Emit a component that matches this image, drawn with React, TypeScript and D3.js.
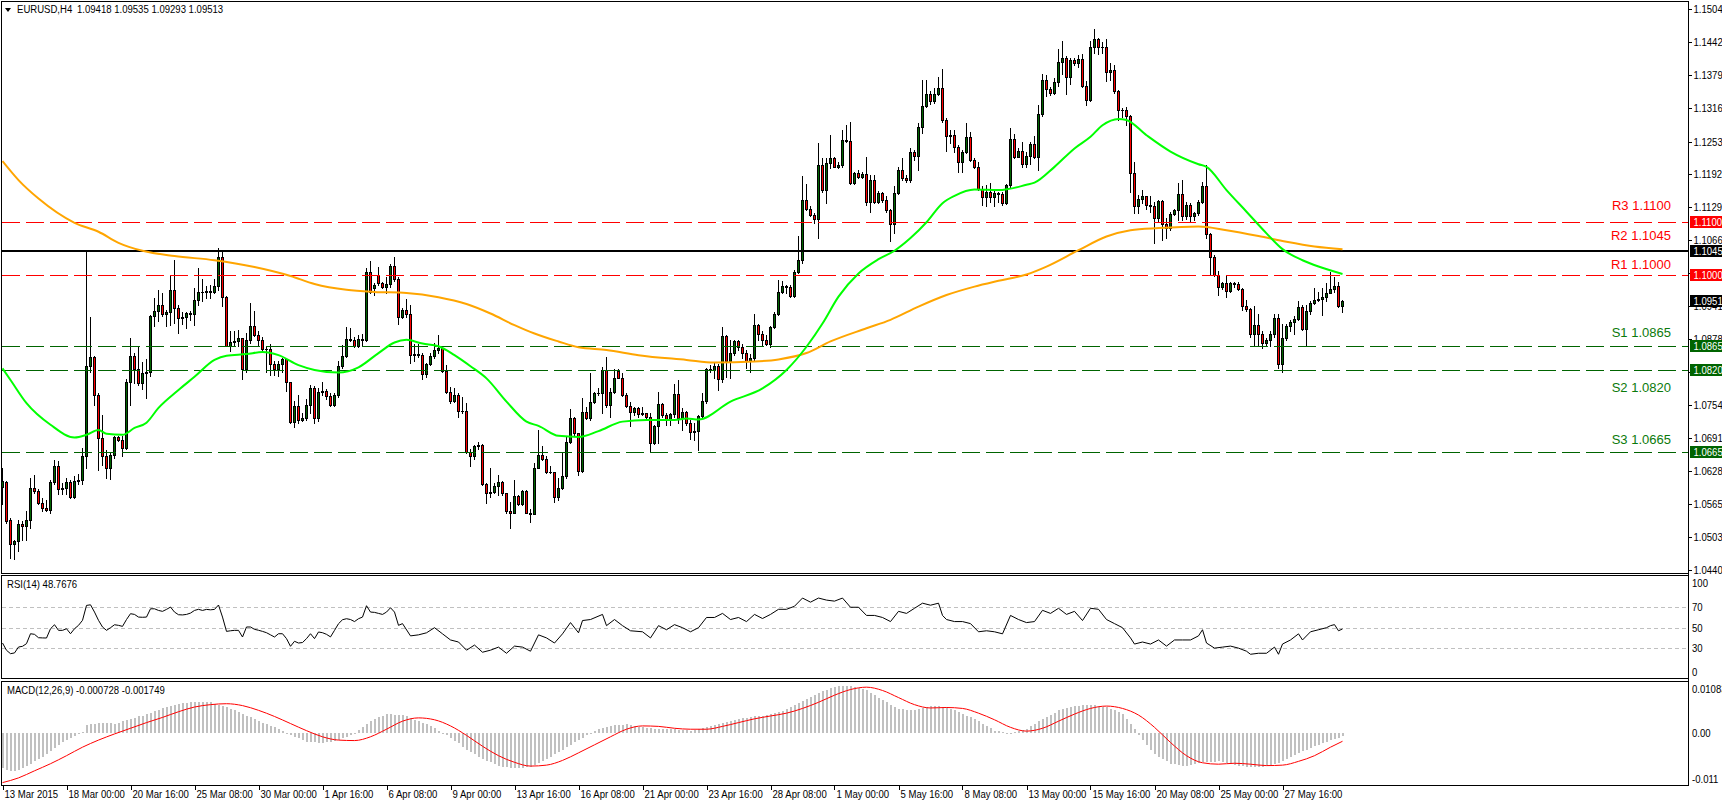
import React from "react";
import * as d3 from "d3";

const W = 1722;
const H = 801;

// EURUSD H4 bars: [open, high, low, close]
const candles: number[][] = [
[1.0599,1.0634,1.0565,1.0610],[1.0608,1.0610,1.0530,1.0533],[1.0535,1.0539,1.0464,1.0490],[1.0490,1.0498,1.0462,1.0495],
[1.0495,1.0536,1.0476,1.0527],[1.0527,1.0533,1.0498,1.0524],[1.0524,1.0552,1.0498,1.0536],[1.0536,1.0615,1.0520,1.0596],
[1.0596,1.0620,1.0587,1.0590],[1.0590,1.0594,1.0565,1.0567],[1.0567,1.0577,1.0552,1.0558],[1.0558,1.0574,1.0552,1.0555],
[1.0555,1.0612,1.0549,1.0608],[1.0608,1.0649,1.0603,1.0637],[1.0637,1.0648,1.0584,1.0594],[1.0594,1.0606,1.0584,1.0596],
[1.0596,1.0616,1.0584,1.0608],[1.0608,1.0612,1.0578,1.0579],[1.0579,1.0618,1.0577,1.0610],[1.0610,1.0622,1.0603,1.0612],
[1.0612,1.0672,1.0603,1.0656],[1.0656,1.1043,1.0634,1.0827],[1.0827,1.0920,1.0817,1.0844],[1.0844,1.0846,1.0754,1.0773],
[1.0773,1.0776,1.0631,1.0691],[1.0691,1.0735,1.0640,1.0656],[1.0656,1.0669,1.0615,1.0634],[1.0634,1.0663,1.0613,1.0658],
[1.0658,1.0695,1.0653,1.0693],[1.0693,1.0695,1.0685,1.0688],[1.0688,1.0694,1.0656,1.0672],[1.0672,1.0802,1.0670,1.0798],
[1.0798,1.0881,1.0754,1.0847],[1.0847,1.0853,1.0795,1.0821],[1.0821,1.0866,1.0792,1.0795],[1.0795,1.0835,1.0783,1.0814],
[1.0814,1.0841,1.0767,1.0816],[1.0816,1.0925,1.0808,1.0922],[1.0922,1.0956,1.0903,1.0931],[1.0931,1.0972,1.0912,1.0943],
[1.0943,1.0966,1.0922,1.0926],[1.0926,1.0934,1.0903,1.0929],[1.0929,1.0999,1.0906,1.0972],[1.0972,1.1029,1.0909,1.0938],
[1.0938,1.0943,1.0890,1.0919],[1.0919,1.0929,1.0908,1.0920],[1.0920,1.0930,1.0900,1.0928],[1.0928,1.0931,1.0915,1.0926],
[1.0926,1.0975,1.0906,1.0953],[1.0953,1.1013,1.0944,1.0968],[1.0968,1.0993,1.0950,1.0967],[1.0967,1.0979,1.0956,1.0970],
[1.0970,1.0981,1.0956,1.0968],[1.0968,1.0993,1.0966,1.0980],[1.0980,1.1051,1.0972,1.1035],[1.1035,1.1046,1.0941,1.0958],
[1.0958,1.0961,1.0865,1.0866],[1.0866,1.0893,1.0855,1.0873],[1.0873,1.0893,1.0868,1.0875],[1.0875,1.0895,1.0865,1.0881],
[1.0881,1.0881,1.0802,1.0821],[1.0821,1.0890,1.0817,1.0876],[1.0876,1.0947,1.0871,1.0904],[1.0904,1.0932,1.0884,1.0887],
[1.0887,1.0893,1.0866,1.0876],[1.0876,1.0883,1.0855,1.0859],[1.0859,1.0865,1.0817,1.0860],[1.0860,1.0870,1.0811,1.0832],
[1.0832,1.0836,1.0811,1.0821],[1.0821,1.0836,1.0808,1.0832],[1.0832,1.0843,1.0817,1.0840],[1.0840,1.0841,1.0781,1.0797],
[1.0797,1.0798,1.0719,1.0721],[1.0721,1.0761,1.0711,1.0752],[1.0752,1.0773,1.0719,1.0726],[1.0726,1.0738,1.0724,1.0729],
[1.0729,1.0764,1.0726,1.0754],[1.0754,1.0792,1.0738,1.0785],[1.0785,1.0790,1.0719,1.0729],[1.0729,1.0786,1.0723,1.0778],
[1.0778,1.0798,1.0773,1.0781],[1.0781,1.0783,1.0764,1.0771],[1.0771,1.0776,1.0751,1.0754],[1.0754,1.0776,1.0751,1.0773],
[1.0773,1.0836,1.0769,1.0827],[1.0827,1.0867,1.0824,1.0846],[1.0846,1.0901,1.0845,1.0878],[1.0878,1.0899,1.0874,1.0877],
[1.0877,1.0882,1.0864,1.0865],[1.0865,1.0886,1.0864,1.0879],[1.0879,1.0888,1.0865,1.0877],[1.0877,1.1013,1.0874,1.1005],
[1.1005,1.1027,1.0965,1.0968],[1.0975,1.0984,1.0962,1.0981],[1.1000,1.1016,1.0981,1.0984],[1.0984,1.0987,1.0975,1.0977],
[1.0977,1.0997,1.0965,1.0983],[1.0983,1.1020,1.0978,1.1017],[1.1017,1.1034,1.0989,1.0992],[1.0992,1.0996,1.0908,1.0920],
[1.0920,1.0937,1.0918,1.0934],[1.0934,1.0954,1.0921,1.0926],[1.0926,1.0943,1.0833,1.0848],[1.0848,1.0869,1.0836,1.0850],
[1.0850,1.0869,1.0845,1.0848],[1.0848,1.0852,1.0802,1.0812],[1.0812,1.0834,1.0807,1.0831],[1.0831,1.0852,1.0829,1.0847],
[1.0847,1.0871,1.0842,1.0858],[1.0858,1.0886,1.0852,1.0862],[1.0862,1.0865,1.0817,1.0818],[1.0818,1.0829,1.0776,1.0778],
[1.0778,1.0788,1.0757,1.0762],[1.0762,1.0785,1.0760,1.0773],[1.0773,1.0776,1.0730,1.0743],[1.0743,1.0769,1.0739,1.0742],
[1.0742,1.0757,1.0662,1.0664],[1.0664,1.0671,1.0637,1.0656],[1.0656,1.0678,1.0652,1.0675],[1.0675,1.0684,1.0671,1.0678],
[1.0678,1.0680,1.0602,1.0604],[1.0604,1.0605,1.0567,1.0587],[1.0587,1.0634,1.0580,1.0589],[1.0589,1.0605,1.0586,1.0600],
[1.0600,1.0621,1.0583,1.0608],[1.0608,1.0609,1.0583,1.0586],[1.0586,1.0587,1.0548,1.0553],[1.0553,1.0570,1.0520,1.0549],
[1.0549,1.0611,1.0548,1.0581],[1.0581,1.0583,1.0564,1.0566],[1.0566,1.0592,1.0564,1.0591],[1.0591,1.0592,1.0548,1.0549],
[1.0549,1.0556,1.0531,1.0547],[1.0547,1.0643,1.0546,1.0635],[1.0635,1.0706,1.0634,1.0659],[1.0659,1.0675,1.0649,1.0652],
[1.0652,1.0657,1.0624,1.0627],[1.0627,1.0637,1.0624,1.0626],[1.0626,1.0627,1.0570,1.0580],[1.0580,1.0615,1.0573,1.0596],
[1.0596,1.0662,1.0594,1.0619],[1.0619,1.0694,1.0616,1.0683],[1.0683,1.0745,1.0681,1.0728],[1.0728,1.0731,1.0697,1.0700],
[1.0700,1.0701,1.0621,1.0629],[1.0629,1.0766,1.0627,1.0740],[1.0740,1.0750,1.0727,1.0728],[1.0728,1.0815,1.0725,1.0759],
[1.0759,1.0779,1.0757,1.0776],[1.0776,1.0785,1.0773,1.0777],[1.0777,1.0826,1.0738,1.0820],[1.0820,1.0845,1.0750,1.0754],
[1.0754,1.0785,1.0731,1.0779],[1.0779,1.0821,1.0776,1.0805],[1.0818,1.0821,1.0804,1.0805],[1.0805,1.0815,1.0771,1.0773],
[1.0773,1.0776,1.0750,1.0752],[1.0752,1.0760,1.0713,1.0741],[1.0741,1.0750,1.0735,1.0747],[1.0747,1.0750,1.0731,1.0737],
[1.0737,1.0750,1.0735,1.0738],[1.0738,1.0738,1.0725,1.0730],[1.0730,1.0738,1.0664,1.0681],[1.0681,1.0716,1.0680,1.0714],
[1.0714,1.0779,1.0681,1.0755],[1.0755,1.0757,1.0731,1.0735],[1.0735,1.0738,1.0716,1.0725],[1.0725,1.0738,1.0716,1.0737],
[1.0737,1.0793,1.0731,1.0774],[1.0774,1.0800,1.0719,1.0728],[1.0728,1.0748,1.0706,1.0740],[1.0740,1.0742,1.0716,1.0720],
[1.0720,1.0725,1.0690,1.0703],[1.0703,1.0719,1.0687,1.0704],[1.0704,1.0735,1.0668,1.0733],[1.0733,1.0776,1.0728,1.0762],
[1.0762,1.0823,1.0757,1.0821],[1.0821,1.0829,1.0817,1.0820],[1.0820,1.0833,1.0804,1.0827],[1.0827,1.0831,1.0782,1.0802],
[1.0802,1.0901,1.0798,1.0884],[1.0884,1.0886,1.0807,1.0836],[1.0836,1.0877,1.0804,1.0853],[1.0853,1.0876,1.0848,1.0874],
[1.0874,1.0877,1.0858,1.0864],[1.0864,1.0870,1.0842,1.0853],[1.0853,1.0858,1.0823,1.0836],[1.0836,1.0851,1.0817,1.0842],
[1.0842,1.0926,1.0839,1.0905],[1.0905,1.0908,1.0877,1.0889],[1.0889,1.0893,1.0867,1.0877],[1.0877,1.0886,1.0867,1.0870],
[1.0870,1.0903,1.0864,1.0902],[1.0902,1.0929,1.0899,1.0926],[1.0926,1.0991,1.0924,1.0967],[1.0967,1.0989,1.0965,1.0979],
[1.0979,1.0981,1.0965,1.0978],[1.0978,1.0981,1.0958,1.0960],[1.0960,1.1009,1.0958,1.1006],[1.1006,1.1073,1.1003,1.1028],
[1.1028,1.1188,1.1022,1.1142],[1.1142,1.1173,1.1123,1.1125],[1.1125,1.1130,1.1111,1.1114],[1.1114,1.1117,1.1099,1.1106],
[1.1106,1.1250,1.1070,1.1209],[1.1209,1.1221,1.1158,1.1161],[1.1161,1.1221,1.1136,1.1212],[1.1212,1.1265,1.1202,1.1221],
[1.1221,1.1224,1.1204,1.1205],[1.1205,1.1215,1.1202,1.1208],[1.1208,1.1275,1.1205,1.1256],[1.1256,1.1284,1.1253,1.1255],
[1.1255,1.1291,1.1172,1.1174],[1.1174,1.1196,1.1172,1.1194],[1.1194,1.1199,1.1183,1.1185],[1.1185,1.1196,1.1183,1.1191],
[1.1191,1.1223,1.1133,1.1139],[1.1139,1.1190,1.1120,1.1181],[1.1181,1.1190,1.1136,1.1139],[1.1139,1.1160,1.1137,1.1156],
[1.1156,1.1158,1.1139,1.1142],[1.1142,1.1149,1.1120,1.1123],[1.1123,1.1125,1.1065,1.1097],[1.1097,1.1169,1.1080,1.1155],
[1.1155,1.1205,1.1154,1.1199],[1.1199,1.1221,1.1180,1.1183],[1.1183,1.1190,1.1177,1.1180],[1.1180,1.1240,1.1177,1.1233],
[1.1233,1.1237,1.1218,1.1226],[1.1226,1.1288,1.1199,1.1281],[1.1281,1.1370,1.1269,1.1320],[1.1320,1.1370,1.1319,1.1344],
[1.1344,1.1348,1.1325,1.1329],[1.1329,1.1354,1.1327,1.1344],[1.1344,1.1376,1.1341,1.1354],[1.1354,1.1390,1.1291,1.1293],
[1.1293,1.1297,1.1236,1.1264],[1.1264,1.1275,1.1250,1.1265],[1.1265,1.1274,1.1234,1.1243],[1.1243,1.1246,1.1196,1.1215],
[1.1215,1.1237,1.1196,1.1234],[1.1234,1.1289,1.1231,1.1261],[1.1261,1.1272,1.1217,1.1218],[1.1218,1.1222,1.1202,1.1205],
[1.1205,1.1215,1.1161,1.1164],[1.1164,1.1169,1.1133,1.1147],[1.1147,1.1171,1.1131,1.1158],[1.1158,1.1174,1.1139,1.1147],
[1.1147,1.1161,1.1130,1.1155],[1.1155,1.1158,1.1139,1.1153],[1.1153,1.1158,1.1133,1.1137],[1.1137,1.1173,1.1135,1.1171],
[1.1171,1.1278,1.1167,1.1257],[1.1257,1.1267,1.1221,1.1224],[1.1224,1.1240,1.1224,1.1236],[1.1236,1.1253,1.1205,1.1210],
[1.1210,1.1234,1.1205,1.1226],[1.1226,1.1253,1.1211,1.1248],[1.1248,1.1264,1.1221,1.1224],[1.1224,1.1322,1.1200,1.1305],
[1.1305,1.1381,1.1302,1.1370],[1.1370,1.1379,1.1339,1.1352],[1.1352,1.1357,1.1341,1.1346],[1.1346,1.1373,1.1343,1.1365],
[1.1365,1.1428,1.1359,1.1403],[1.1403,1.1444,1.1382,1.1411],[1.1411,1.1415,1.1343,1.1376],[1.1376,1.1411,1.1363,1.1408],
[1.1408,1.1411,1.1398,1.1401],[1.1401,1.1417,1.1395,1.1409],[1.1409,1.1419,1.1357,1.1358],[1.1358,1.1367,1.1322,1.1332],
[1.1332,1.1444,1.1329,1.1432],[1.1432,1.1466,1.1420,1.1447],[1.1447,1.1449,1.1419,1.1432],[1.1432,1.1442,1.1420,1.1433],
[1.1433,1.1447,1.1367,1.1384],[1.1384,1.1401,1.1370,1.1389],[1.1389,1.1398,1.1346,1.1348],[1.1348,1.1351,1.1294,1.1313],
[1.1313,1.1316,1.1300,1.1312],[1.1312,1.1318,1.1284,1.1302],[1.1302,1.1303,1.1158,1.1194],[1.1194,1.1215,1.1118,1.1130],
[1.1130,1.1152,1.1117,1.1145],[1.1145,1.1161,1.1136,1.1149],[1.1149,1.1150,1.1126,1.1132],[1.1132,1.1150,1.1120,1.1130],
[1.1130,1.1139,1.1060,1.1108],[1.1108,1.1142,1.1101,1.1141],[1.1141,1.1142,1.1066,1.1097],[1.1097,1.1108,1.1070,1.1089],
[1.1089,1.1120,1.1085,1.1116],[1.1116,1.1126,1.1114,1.1123],[1.1123,1.1174,1.1104,1.1154],[1.1154,1.1180,1.1104,1.1111],
[1.1111,1.1139,1.1106,1.1133],[1.1133,1.1137,1.1101,1.1111],[1.1111,1.1120,1.1104,1.1118],[1.1118,1.1142,1.1114,1.1138],
[1.1138,1.1177,1.1136,1.1169],[1.1169,1.1209,1.1070,1.1078],[1.1078,1.1079,1.1000,1.1035],[1.1035,1.1038,1.0999,1.1000],
[1.1000,1.1008,1.0962,1.0977],[1.0977,1.0987,1.0973,1.0984],[1.0984,1.1000,1.0959,1.0970],[1.0970,1.0986,1.0968,1.0984],
[1.0984,1.0986,1.0978,1.0983],[1.0983,1.0986,1.0972,1.0973],[1.0973,1.0975,1.0934,1.0942],[1.0942,1.0953,1.0932,1.0935],
[1.0935,1.0937,1.0883,1.0889],[1.0889,1.0941,1.0867,1.0905],[1.0905,1.0927,1.0867,1.0888],[1.0888,1.0893,1.0861,1.0871],
[1.0871,1.0880,1.0867,1.0876],[1.0876,1.0893,1.0865,1.0888],[1.0888,1.0927,1.0883,1.0918],[1.0918,1.0927,1.0823,1.0831],
[1.0831,1.0908,1.0817,1.0880],[1.0880,1.0908,1.0877,1.0903],[1.0903,1.0915,1.0893,1.0910],[1.0910,1.0922,1.0889,1.0916],
[1.0916,1.0951,1.0915,1.0939],[1.0939,1.0943,1.0896,1.0897],[1.0897,1.0943,1.0865,1.0931],[1.0931,1.0951,1.0927,1.0946],
[1.0946,1.0975,1.0945,1.0953],[1.0953,1.0967,1.0951,1.0954],[1.0954,1.0975,1.0924,1.0959],[1.0959,1.0984,1.0951,1.0966],
[1.0966,1.1006,1.0965,1.0973],[1.0973,1.0997,1.0968,1.0979],[1.0979,1.0987,1.0939,1.0941],[1.09418,1.09535,1.09293,1.09513],
];

const timeTickBars = [0, 16, 32, 48, 64, 80, 96, 112, 128, 144, 160, 176, 192, 208, 224, 240, 256, 272, 288, 304, 320];
const timeTickLabels = [
  "13 Mar 2015", "18 Mar 00:00", "20 Mar 16:00", "25 Mar 08:00", "30 Mar 00:00", "1 Apr 16:00", "6 Apr 08:00",
  "9 Apr 00:00", "13 Apr 16:00", "16 Apr 08:00", "21 Apr 00:00", "23 Apr 16:00", "28 Apr 08:00", "1 May 00:00",
  "5 May 16:00", "8 May 08:00", "13 May 00:00", "15 May 16:00", "20 May 08:00", "25 May 00:00", "27 May 16:00",
];

const priceTickLabels = [
  "1.1504", "1.1442", "1.1379", "1.1316", "1.1253", "1.1192", "1.1129", "1.1066", "1.1003",
  "1.0941", "1.0878", "1.0816", "1.0754", "1.0691", "1.0628", "1.0565", "1.0503", "1.0440",
];

// moving averages: bar index / value
const maFastBars = [0,2,6,12,18,21,24,26,30,33,36,39,44,48,53,56,61,65,69,74,78,84,89,94,98,101,105,109,113,117,121,126,131,134,139,144,149,155,161,168,171,174,182,190,196,201,205,209,214,219,223,227,231,235,238,243,249,256,258,263,268,272,275,279,281,286,292,299,301,306,311,316,320,325,329,335];
const maFastVals = [1.0823,1.0801,1.0757,1.0716,1.0692,1.0697,1.0706,1.0699,1.0697,1.0710,1.0720,1.0748,1.0782,1.0807,1.0839,1.0847,1.0850,1.0854,1.0848,1.0829,1.0820,1.0815,1.0825,1.0852,1.0872,1.0877,1.0870,1.0865,1.0848,1.0827,1.0804,1.0760,1.0722,1.0714,1.0695,1.0693,1.0704,1.0722,1.0725,1.0725,1.0728,1.0726,1.0760,1.0785,1.0820,1.0864,1.0908,1.0959,1.1003,1.1030,1.1046,1.1070,1.1100,1.1136,1.1150,1.1162,1.1161,1.1171,1.1175,1.1205,1.1240,1.1262,1.1284,1.1296,1.1294,1.1265,1.1234,1.1210,1.1205,1.1161,1.1120,1.1079,1.1049,1.1028,1.1016,1.1002];
const maSlowBars = [0,4,9,18,24,29,35,43,53,63,72,78,86,93,101,109,116,122,128,133,139,144,151,159,171,178,188,194,201,207,216,222,229,236,243,249,256,261,269,276,282,289,299,306,314,321,328,335];
const maSlowVals = [1.1216,1.1180,1.1145,1.1099,1.1082,1.1061,1.1046,1.1036,1.1028,1.1015,1.0998,1.0983,1.0972,1.0968,1.0966,1.0958,1.0945,1.0927,1.0905,1.0889,1.0874,1.0863,1.0858,1.0848,1.0839,1.0834,1.0836,1.0840,1.0852,1.0874,1.0899,1.0915,1.0940,1.0962,1.0978,1.0989,1.1001,1.1016,1.1047,1.1073,1.1085,1.1089,1.1092,1.1085,1.1074,1.1063,1.1054,1.1049];

const levelNames = ["R3", "R2", "R1", "S1", "S2", "S3"];
const levelValues = [1.11, 1.1045, 1.1, 1.0865, 1.082, 1.0665];
const levelLabelAt = [1.11232, 1.10664, 1.10114, 1.0883, 1.07787, 1.06796];

const rsiBars = [0,1,2,3,4,5,6,7,8,9,10,11,12,13,14,15,16,17,18,19,20,21,22,23,24,25,26,27,28,29,30,31,32,33,34,35,36,37,38,39,40,41,42,43,44,45,46,47,48,49,50,51,52,53,54,55,56,57,58,59,60,61,62,63,64,65,66,67,68,69,70,71,72,73,74,75,76,77,78,79,80,81,82,83,84,85,86,87,88,89,90,91,92,93,94,95,96,97,98,99,
  100,102,104,106,108,110,112,114,116,118,120,122,124,126,128,130,132,134,136,138,140,142,144,145,147,150,151,153,155,157,160,162,164,166,168,170,172,174,176,178,180,182,184,186,188,190,192,194,196,198,200,202,204,206,208,210,212,214,216,218,220,222,224,226,228,230,232,234,235,236,238,240,242,244,246,248,250,252,254,256,258,260,262,264,266,268,270,272,274,276,278,280,282,283,285,287,289,291,293,295,297,299,300,301,303,305,307,309,311,312,314,316,318,319,320,322,324,325,327,329,331,332,333,334,335];
const rsiVals = [35,27.9,24.6,25.3,31.1,31.8,34.4,44.1,43.5,40.2,40,39.9,49,52.9,47.4,47.4,49,44.1,49,52.3,57.2,71.8,72.4,65.3,57.2,50.7,47.4,50,52.9,52.3,51.3,58,63.7,63,60.4,60.2,60.4,68.5,68.5,66.9,66,67.9,70.2,65.3,62.7,62.5,63,64.3,66.9,68,66.9,67.9,67.5,67.9,72.2,60.4,46.4,47,47.4,47.4,40.9,50.7,50.7,48.4,47.5,46.4,45.1,43,40.9,44.1,44.1,39.3,31.8,36.7,35,35.5,39.3,44.1,39.3,45.8,45.1,43.5,41,47.4,53.9,57.8,58.8,58,56,58.8,60.4,71.5,65.3,65,64,63,65.3,69.5,65.3,52.3,
  54,42,43,45,50,44,38,36,28,33,26,28,31,25,32,31,27,43,40,35,44,55,45,57,58,63,52,58,52,47,46,40,52,48,53,50,46,50,60,60,64,58,60,56,63,59,63,68,68,71,79,75,79,77,76,79,70,70,62,62,60,56,66,64,69,74,72,74,62,58,56,56,54,46,47,46,44,62,58,55,56,67,64,69,63,66,57,69,68,58,54,50,40,34,36,34,38,32,38,38,38,42,48,35,30,31,32,30,27,24,25,25,31,24,34,38,44,38,46,48,50,52,53,47,48.7676];
const rsiLevels = [70, 50, 30];
const rsiTicks = [100, 70, 50, 30, 0];

// MACD main (histogram) per bar, in units of 0.0001
const macdHistPips = [
-75,-78,-80,-80,-78,-74,-70,-65,-60,-55,-50,-44,-38,-32,-26,-20,-14,-10,-6,-2,2,16,19,20,21,
22,21,21,20,22,25,27,30,32,35,37,40,43,46,49,52,54,57,59,62,63,64,65,66,66,66,65,65,
62,60,58,55,51,48,44,40,36,33,29,25,22,18,15,12,8,4,0,-5,-8,-11,-15,-18,-19,-20,-21,-22,
-20,-19,-17,-15,-11,-8,-4,0,6,12,19,25,29,33,36,40,40,39,39,38,35,32,28,25,21,18,14,10,
5,0,-5,-10,-16,-22,-29,-35,-40,-45,-50,-55,-59,-62,-66,-70,-71,-72,-74,-75,-74,-74,-73,-72,
-68,-64,-59,-55,-50,-45,-40,-35,-30,-25,-20,-15,-10,-5,0,5,8,10,13,15,16,17,17,18,
16,15,13,12,11,10,9,8,8,8,8,8,7,7,6,5,7,8,10,12,15,17,20,22,24,26,28,30,31,32,34,35,
36,37,39,40,42,45,47,50,54,59,63,68,72,76,81,85,88,91,95,98,99,99,100,100,98,95,93,90,
85,80,75,70,65,60,55,50,50,49,49,48,50,53,55,58,58,57,56,55,51,48,44,40,36,33,29,25,
20,15,10,5,4,3,1,0,2,4,6,8,14,19,25,30,34,39,43,48,50,53,55,58,58,59,59,60,59,58,56,55,
51,48,44,40,30,20,8,-5,-15,-25,-35,-45,-50,-55,-60,-65,-66,-68,-69,-70,-68,-66,-64,-62,
-62,-61,-61,-60,-62,-64,-66,-68,-69,-70,-71,-72,-72,-71,-71,-70,-68,-65,-63,-60,-56,-51,-47,-42,
-39,-35,-32,-28,-25,-22,-18,-15,-12,-10,-7.28,
];
const macdSignalBars = [0,4,8,12,16,20,24,28,32,36,40,44,48,52,56,60,64,68,72,76,80,84,88,92,96,100,104,108,112,116,120,124,128,132,136,140,144,148,152,156,160,164,168,172,176,180,184,188,192,196,200,204,208,212,216,220,224,228,232,236,240,244,248,252,256,260,264,268,272,276,280,284,288,292,296,300,304,308,312,316,320,324,328,332,335];
const macdSignalPips = [-105,-95,-80,-65,-48,-30,-15,-2,10,22,33,45,55,60,62,58,48,35,20,5,-8,-15,-16,-8,8,25,32,28,15,-5,-28,-48,-62,-70,-68,-58,-42,-25,-8,8,15,14,10,8,8,14,22,30,36,42,52,65,80,92,97,90,75,60,53,54,52,42,28,12,4,10,25,40,52,57,52,38,12,-20,-48,-63,-66,-64,-66,-69,-68,-60,-48,-30,-17.49];
const macdTickValues = [0.010831, 0, -0.011];
const macdTickLabels = ["0.010831", "0.00", "-0.011"];

const FONT = "'Liberation Sans', Arial, sans-serif";
const GREEN = "#006400";
const SQUEEZE = 0.87;

function T(props: { x: number; y: number; children: React.ReactNode; fill?: string; size?: number }) {
  const { x, y, children, fill = "#000", size = 11 } = props;
  return (
    <text transform={`translate(${x},${y}) scale(${SQUEEZE},1)`} fontSize={size} fill={fill} fontFamily={FONT}>
      {children}
    </text>
  );
}

export default function App() {
  const x = d3.scaleLinear().domain([0, 335]).range([2.5, 1342.5]);
  const y = d3.scaleLinear().domain([1.0435, 1.15176]).range([573, 2]);
  const yR = d3.scaleLinear().domain([0, 100]).range([678.8, 576.6]);
  const yM = d3.scaleLinear().domain([-0.01111, 0.0109]).range([785.5, 681.5]);

  const R = Math.round;

  const fastLine = d3.line<number>().x((_, i) => x(maFastBars[i])).y((v) => y(v)).curve(d3.curveMonotoneX)(maFastVals) || "";
  const slowLine = d3.line<number>().x((_, i) => x(maSlowBars[i])).y((v) => y(v)).curve(d3.curveMonotoneX)(maSlowVals) || "";
  const rsiLine = d3.line<number>().x((_, i) => x(rsiBars[i])).y((v) => yR(v))(rsiVals) || "";
  const sigLine = d3.line<number>().x((_, i) => x(macdSignalBars[i])).y((v) => yM(v / 10000)).curve(d3.curveMonotoneX)(macdSignalPips) || "";

  const last = candles[candles.length - 1][3];
  const tagValues = [levelValues[0], levelValues[1], levelValues[2], last, levelValues[3], levelValues[4], levelValues[5]];
  const tagColors = ["#FF0000", "#000000", "#FF0000", "#000000", GREEN, GREEN, GREEN];
  const tagText = tagValues.map((v) => v.toFixed(4));

  return (
    <svg width={W} height={H} style={{ position: "absolute", left: 0, top: 0, background: "#fff" }} fontFamily={FONT}>
      <rect x={0} y={0} width={W} height={H} fill="#fff" />
      <defs>
        <clipPath id="mainClip"><rect x={2} y={2} width={1686} height={571} /></clipPath>
        <clipPath id="rsiClip"><rect x={2} y={576} width={1686} height={102} /></clipPath>
        <clipPath id="macdClip"><rect x={2} y={682} width={1686} height={103} /></clipPath>
      </defs>

      {/* panel frames */}
      <rect x={1.5} y={1.5} width={1687} height={572} fill="none" stroke="#000" />
      <rect x={1.5} y={575.5} width={1687} height={103} fill="none" stroke="#000" />
      <rect x={1.5} y={681.5} width={1687} height={104} fill="none" stroke="#000" />

      {/* candles */}
      <g clipPath="url(#mainClip)" shapeRendering="crispEdges">
        {candles.map((c, i) => {
          const [o, h, l, cl] = c;
          const cx = x(i);
          const yh = R(y(h)), yl = R(y(l));
          const top = R(y(Math.max(o, cl)));
          const bot = R(y(Math.min(o, cl)));
          const up = cl >= o;
          return (
            <g key={i}>
              <rect x={cx - 0.5} y={yh} width={1} height={Math.max(1, yl - yh + 1)} fill="#000" />
              {bot - top < 2 ? (
                <rect x={cx - 1.5} y={top} width={3} height={Math.max(1, bot - top + 1)} fill="#000" />
              ) : (
                <>
                  <rect x={cx - 1.5} y={top} width={3} height={bot - top + 1} fill="#000" />
                  <rect x={cx - 0.5} y={top + 1} width={1} height={bot - top - 1} fill={up ? GREEN : "#FF0000"} />
                </>
              )}
            </g>
          );
        })}
      </g>

      {/* level lines */}
      <g clipPath="url(#mainClip)">
        {levelValues.map((v, i) => {
          const yy = R(y(v));
          if (levelNames[i] === "R2") {
            return <line key={i} x1={2} x2={1688} y1={yy} y2={yy} stroke="#000" strokeWidth={2} shapeRendering="crispEdges" />;
          }
          const col = levelNames[i].startsWith("R") ? "#FF0000" : GREEN;
          return <line key={i} x1={2} x2={1688} y1={yy + 0.5} y2={yy + 0.5} stroke={col} strokeWidth={1} strokeDasharray="18,6" shapeRendering="crispEdges" />;
        })}
      </g>

      {/* moving averages */}
      <g clipPath="url(#mainClip)" fill="none" strokeWidth={2}>
        <path d={slowLine} stroke="#FFA500" />
        <path d={fastLine} stroke="#00FF00" />
      </g>

      {/* level labels */}
      {levelValues.map((v, i) => (
        <text key={i} x={1671} y={y(levelLabelAt[i])} textAnchor="end" fontSize={13} fontFamily={FONT}
          fill={levelNames[i].startsWith("R") ? "#FF0000" : "#0B7A0B"}>
          {levelNames[i]} {v.toFixed(4)}
        </text>
      ))}

      {/* title */}
      <path d="M5,8 L11,8 L8,12 Z" fill="#000" />
      <T x={17} y={13}>EURUSD,H4</T>
      <T x={77} y={13}>1.09418 1.09535 1.09293 1.09513</T>

      {/* price axis */}
      <line x1={1688.5} x2={1688.5} y1={1.5} y2={785.5} stroke="#000" />
      {priceTickLabels.map((s) => {
        const yy = y(+s);
        return (
          <g key={s}>
            <line x1={1688} x2={1692} y1={R(yy) + 0.5} y2={R(yy) + 0.5} stroke="#000" shapeRendering="crispEdges" />
            <T x={1693.5} y={yy + 4}>{s}</T>
          </g>
        );
      })}
      {tagValues.map((v, i) => {
        const yy = R(y(v));
        return (
          <g key={"t" + i}>
            <rect x={1690} y={yy - 6} width={33} height={12} fill={tagColors[i]} shapeRendering="crispEdges" />
            <T x={1693.5} y={yy + 4} fill="#fff">{tagText[i]}</T>
          </g>
        );
      })}

      {/* RSI */}
      <T x={7} y={588}>RSI(14) 48.7676</T>
      {rsiLevels.map((lv) => (
        <line key={lv} x1={2} x2={1688} y1={R(yR(lv)) + 0.5} y2={R(yR(lv)) + 0.5} stroke="#C0C0C0" strokeDasharray="4,3" shapeRendering="crispEdges" />
      ))}
      <g clipPath="url(#rsiClip)">
        <path d={rsiLine} fill="none" stroke="#000" strokeWidth={1} />
      </g>
      {rsiTicks.map((t) => {
        const yy = Math.min(Math.max(yR(t), 583), 672);
        return <T key={t} x={1692} y={yy + 4}>{t}</T>;
      })}

      {/* MACD */}
      <g clipPath="url(#macdClip)" shapeRendering="crispEdges">
        {macdHistPips.map((p, i) => {
          const v = p / 10000;
          const y0 = R(yM(0));
          const y1 = R(yM(v));
          return <rect key={i} x={x(i) - 0.5} y={Math.min(y0, y1)} width={2} height={Math.max(1, Math.abs(y1 - y0))} fill="#C0C0C0" />;
        })}
      </g>
      <g clipPath="url(#macdClip)">
        <path d={sigLine} fill="none" stroke="#FF0000" strokeWidth={1} />
      </g>
      <T x={7} y={694}>MACD(12,26,9) -0.000728 -0.001749</T>
      {macdTickValues.map((t, i) => {
        const yy = Math.min(Math.max(yM(t), 689), 779);
        return <T key={i} x={1692} y={yy + 4}>{macdTickLabels[i]}</T>;
      })}

      {/* time axis */}
      {timeTickBars.map((b, i) => (
        <g key={b}>
          <line x1={R(x(b)) + 0.5} x2={R(x(b)) + 0.5} y1={785} y2={790} stroke="#000" shapeRendering="crispEdges" />
          <T x={x(b) + 2} y={798}>{timeTickLabels[i]}</T>
        </g>
      ))}
    </svg>
  );
}
